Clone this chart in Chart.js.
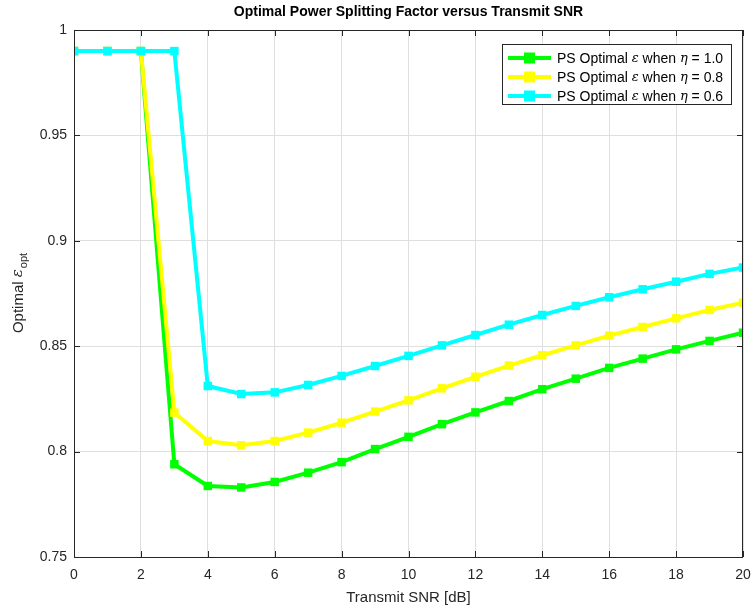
<!DOCTYPE html>
<html>
<head>
<meta charset="utf-8">
<script src="https://cdn.jsdelivr.net/npm/chart.js@4/dist/chart.umd.min.js"></script>
<style>
  html, body { margin: 0; padding: 0; background: #fff; }
  #wrap { width: 753px; height: 610px; }
</style>
</head>
<body>
<div id="wrap"><canvas id="chart" width="753" height="610"></canvas></div>
<script>
// x values (Transmit SNR in dB)
const snr = [0,1,2,3,4,5,6,7,8,9,10,11,12,13,14,15,16,17,18,19,20];

// optimal power splitting factor
const epsEta10 = [0.99,0.99,0.99,0.794,0.7837,0.7830,0.7856,0.790,0.795,0.8012,0.807,0.813,0.8186,0.824,0.8296,0.8346,0.8397,0.8441,0.8485,0.8525,0.8564];
const epsEta08 = [0.99,0.99,0.99,0.8185,0.805,0.803,0.805,0.809,0.8137,0.819,0.8243,0.830,0.8355,0.8408,0.8457,0.8504,0.855,0.8591,0.8632,0.8672,0.8706];
const epsEta06 = [0.99,0.99,0.99,0.99,0.8311,0.8273,0.8281,0.8316,0.8359,0.8406,0.8454,0.8504,0.8553,0.8602,0.8648,0.8691,0.8732,0.877,0.8806,0.8843,0.8873];

const seriesEta = ["1.0", "0.8", "0.6"];
const seriesColors = ["#00ff00", "#ffff00", "#00ffff"];

const xTicks = [0,2,4,6,8,10,12,14,16,18,20];
const yTicks = [0.75,0.8,0.85,0.9,0.95,1];

const axisColor = "#262626";
const font = "'Liberation Sans', Arial, Helvetica, sans-serif";

function pts(ys) {
  return snr.map((x, i) => ({ x: x, y: ys[i] }));
}

function makeSet(ys, idx) {
  return {
    label: "PS Optimal \u03B5 when \u03B7 = " + seriesEta[idx],
    data: pts(ys),
    borderColor: seriesColors[idx],
    backgroundColor: seriesColors[idx],
    borderWidth: 4,
    pointStyle: "rect",
    pointRadius: 6,
    pointBorderWidth: 0,
    pointHoverRadius: 6,
    order: 3 - idx
  };
}

// draws box, inner ticks, titles and the legend the way matlab does
const decor = {
  id: "decor",
  afterDraw(chart) {
    const ctx = chart.ctx;
    const a = chart.chartArea;
    const xs = chart.scales.x, ys = chart.scales.y;
    ctx.save();
    ctx.strokeStyle = axisColor;
    ctx.lineWidth = 1;
    ctx.strokeRect(a.left + 0.5, a.top + 0.5, a.right - a.left - 1, a.bottom - a.top);
    // inner ticks
    ctx.beginPath();
    xTicks.forEach(t => {
      const px = Math.round(xs.getPixelForValue(t)) + 0.5;
      ctx.moveTo(px, a.bottom); ctx.lineTo(px, a.bottom - 6);
      ctx.moveTo(px, a.top); ctx.lineTo(px, a.top + 6);
    });
    yTicks.forEach(t => {
      const py = Math.round(ys.getPixelForValue(t)) + 0.5;
      ctx.moveTo(a.left, py); ctx.lineTo(a.left + 6, py);
      ctx.moveTo(a.right, py); ctx.lineTo(a.right - 6, py);
    });
    ctx.stroke();

    // title
    const cx = (a.left + a.right) / 2;
    ctx.fillStyle = "#000";
    ctx.textAlign = "center";
    ctx.textBaseline = "middle";
    ctx.font = "bold 14px " + font;
    ctx.fillText("Optimal Power Splitting Factor versus Transmit SNR", cx, 12);

    // x label
    ctx.fillStyle = axisColor;
    ctx.font = "15px " + font;
    ctx.fillText("Transmit SNR [dB]", cx, 598);

    // y label with subscript
    ctx.save();
    ctx.translate(19, (a.top + a.bottom) / 2);
    ctx.rotate(-Math.PI / 2);
    ctx.textAlign = "left";
    const p1 = "Optimal ";
    ctx.font = "15px " + font;
    const w1 = ctx.measureText(p1).width;
    ctx.font = "italic 15px 'DejaVu Serif', serif";
    const w2 = ctx.measureText("\u03B5").width;
    ctx.font = "11px " + font;
    const w3 = ctx.measureText("opt").width;
    let x0 = -(w1 + w2 + w3) / 2;
    ctx.font = "15px " + font;
    ctx.fillText(p1, x0, 0);
    ctx.font = "italic 15px 'DejaVu Serif', serif";
    ctx.fillText("\u03B5", x0 + w1, -1);
    ctx.font = "11px " + font;
    ctx.fillText("opt", x0 + w1 + w2 + 1, 5);
    ctx.restore();

    // legend
    const lx = 502, ly = 44, lw = 229, lh = 60;
    ctx.fillStyle = "#fff";
    ctx.fillRect(lx, ly, lw, lh);
    ctx.strokeStyle = axisColor;
    ctx.strokeRect(lx + 0.5, ly + 0.5, lw, lh);
    ctx.textAlign = "left";
    seriesEta.forEach((eta, i) => {
      const yy = ly + 14 + i * 19;
      ctx.strokeStyle = seriesColors[i];
      ctx.lineWidth = 4;
      ctx.beginPath();
      ctx.moveTo(lx + 6, yy); ctx.lineTo(lx + 49, yy);
      ctx.stroke();
      ctx.fillStyle = seriesColors[i];
      ctx.fillRect(lx + 22, yy - 5.5, 11, 11);
      ctx.fillStyle = "#000";
      let tx = lx + 55;
      const parts = [
        ["PS Optimal ", "14px " + font],
        ["\u03B5", "italic 13px 'DejaVu Serif', serif"],
        [" when ", "14px " + font],
        ["\u03B7", "italic 13px 'DejaVu Serif', serif"],
        [" = " + eta, "14px " + font]
      ];
      parts.forEach(p => {
        ctx.font = p[1];
        ctx.fillText(p[0], tx, yy + 1);
        tx += ctx.measureText(p[0]).width;
      });
    });
    ctx.restore();
  }
};

new Chart(document.getElementById("chart"), {
  type: "line",
  data: {
    datasets: [makeSet(epsEta10, 0), makeSet(epsEta08, 1), makeSet(epsEta06, 2)]
  },
  options: {
    responsive: false,
    animation: false,
    layout: { padding: { top: 30, right: 10, left: 0, bottom: 0 } },
    plugins: {
      legend: { display: false },
      title: { display: false },
      tooltip: { enabled: false }
    },
    scales: {
      x: {
        type: "linear",
        min: 0, max: 20,
        afterBuildTicks(s) { s.ticks = xTicks.map(v => ({ value: v })); },
        afterFit(s) { s.height = 53; s.paddingLeft = 0; s.paddingRight = 0; },
        grid: { color: "#dfdfdf", drawTicks: false, lineWidth: 1 },
        border: { display: false },
        ticks: { color: axisColor, font: { family: font, size: 14 }, padding: 10, maxRotation: 0,
                 callback: v => String(v) }
      },
      y: {
        type: "linear",
        min: 0.75, max: 1,
        afterBuildTicks(s) { s.ticks = yTicks.map(v => ({ value: v })); },
        afterFit(s) { s.width = 74; s.paddingTop = 0; s.paddingBottom = 0; },
        grid: { color: "#dfdfdf", drawTicks: false, lineWidth: 1 },
        border: { display: false },
        ticks: { color: axisColor, font: { family: font, size: 14 }, padding: 7,
                 callback: v => String(+v.toFixed(2)) }
      }
    }
  },
  plugins: [decor]
});
</script>
</body>
</html>
